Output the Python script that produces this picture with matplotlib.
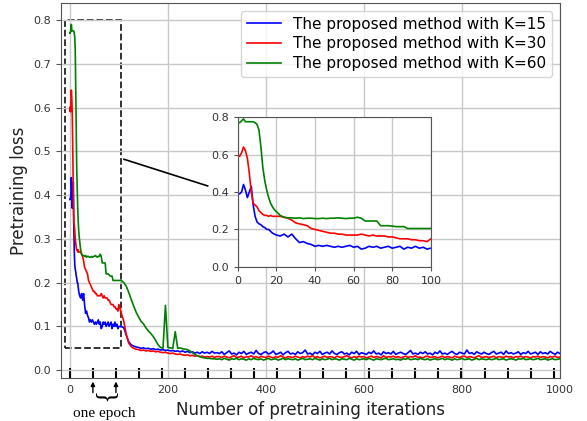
import numpy as np
import matplotlib.pyplot as plt
from matplotlib.patches import Rectangle, ConnectionPatch

# one epoch = 47 pretraining iterations (tick marks on the x axis)
EPOCH = 47

# sample positions: every iteration up to 20, then every 2 up to 100, then every 5
iterations = np.concatenate([np.arange(0, 21), np.arange(22, 101, 2), np.arange(105, 1001, 5)])

loss_k15 = [
    # 0..20
    0.39, 0.39, 0.40, 0.44, 0.41, 0.37, 0.40, 0.43, 0.33, 0.27, 0.24, 0.23, 0.225, 0.215, 0.21, 0.20, 0.20, 0.19, 0.18, 0.175, 0.17,
    # 22..100
    0.165, 0.175, 0.16, 0.175, 0.15, 0.13, 0.135, 0.125, 0.12, 0.11, 0.115, 0.11, 0.115, 0.11, 0.105, 0.11, 0.105, 0.11, 0.115, 0.105,
    0.11, 0.095, 0.10, 0.11, 0.105, 0.11, 0.10, 0.105, 0.11, 0.10, 0.105, 0.11, 0.095, 0.105, 0.10, 0.11, 0.10, 0.105, 0.095, 0.10,
    # 105..300
    0.100, 0.097, 0.080, 0.065, 0.058, 0.055, 0.053, 0.052, 0.050, 0.051, 0.049, 0.050, 0.048, 0.049, 0.047, 0.048, 0.046, 0.047, 0.045, 0.046,
    0.044, 0.045, 0.043, 0.044, 0.042, 0.044, 0.041, 0.043, 0.040, 0.042, 0.039, 0.041, 0.038, 0.042, 0.039, 0.041, 0.038, 0.043, 0.039, 0.040,
    # 305..1000
    0.038, 0.042, 0.036, 0.040, 0.044, 0.037, 0.039, 0.035, 0.041, 0.038,
    0.043, 0.036, 0.039, 0.041, 0.037, 0.045, 0.038, 0.036, 0.040, 0.042,
    0.037, 0.039, 0.044, 0.036, 0.038, 0.041, 0.035, 0.040, 0.043, 0.037,
    0.039, 0.036, 0.042, 0.038, 0.040, 0.046, 0.037, 0.039, 0.035, 0.041,
    0.038, 0.043, 0.036, 0.039, 0.041, 0.037, 0.044, 0.038, 0.036, 0.040,
    0.042, 0.037, 0.039, 0.035, 0.041, 0.038, 0.043, 0.036, 0.040, 0.038,
    0.036, 0.041, 0.038, 0.044, 0.037, 0.039, 0.035, 0.042, 0.038, 0.040,
    0.037, 0.043, 0.036, 0.039, 0.041, 0.038, 0.036, 0.040, 0.045, 0.037,
    0.039, 0.036, 0.041, 0.038, 0.042, 0.037, 0.039, 0.035, 0.041, 0.038,
    0.044, 0.037, 0.039, 0.036, 0.040, 0.043, 0.038, 0.036, 0.041, 0.039,
    0.037, 0.046, 0.038, 0.040, 0.036, 0.042, 0.039, 0.037, 0.041, 0.038,
    0.036, 0.040, 0.043, 0.037, 0.039, 0.041, 0.036, 0.044, 0.038, 0.040,
    0.037, 0.039, 0.042, 0.036, 0.040, 0.038, 0.043, 0.037, 0.039, 0.041,
    0.036, 0.042, 0.038, 0.040, 0.037, 0.043, 0.039, 0.036, 0.041, 0.038,
]

loss_k30 = [
    # 0..20
    0.60, 0.59, 0.61, 0.64, 0.62, 0.58, 0.50, 0.40, 0.34, 0.33, 0.32, 0.30, 0.29, 0.28, 0.275, 0.275, 0.27, 0.275, 0.27, 0.27, 0.27,
    # 22..100
    0.27, 0.265, 0.26, 0.25, 0.235, 0.23, 0.225, 0.22, 0.205, 0.20, 0.195, 0.19, 0.185, 0.18, 0.18, 0.175, 0.175, 0.17, 0.17, 0.17,
    0.17, 0.175, 0.17, 0.165, 0.17, 0.165, 0.165, 0.165, 0.16, 0.16, 0.155, 0.15, 0.15, 0.15, 0.145, 0.145, 0.14, 0.14, 0.135, 0.15,
    # 105..300
    0.130, 0.112, 0.082, 0.062, 0.054, 0.050, 0.048, 0.047, 0.045, 0.046, 0.044, 0.045, 0.043, 0.044, 0.042, 0.043, 0.041, 0.040, 0.041, 0.039,
    0.038, 0.039, 0.037, 0.036, 0.037, 0.035, 0.034, 0.035, 0.033, 0.034, 0.032, 0.033, 0.031, 0.032, 0.030, 0.031, 0.030, 0.032, 0.029, 0.031,
    # 305..1000
    0.031, 0.029, 0.032, 0.030, 0.028, 0.031, 0.033, 0.029, 0.030, 0.032,
    0.028, 0.031, 0.030, 0.033, 0.029, 0.031, 0.028, 0.032, 0.030, 0.029,
    0.032, 0.030, 0.028, 0.031, 0.029, 0.033, 0.030, 0.028, 0.031, 0.030,
    0.029, 0.032, 0.030, 0.028, 0.031, 0.029, 0.032, 0.030, 0.033, 0.029,
    0.031, 0.028, 0.030, 0.032, 0.029, 0.031, 0.030, 0.028, 0.032, 0.030,
    0.029, 0.031, 0.033, 0.030, 0.028, 0.031, 0.029, 0.032, 0.030, 0.031,
    0.028, 0.030, 0.032, 0.029, 0.031, 0.030, 0.028, 0.033, 0.029, 0.031,
    0.030, 0.032, 0.029, 0.031, 0.028, 0.030, 0.032, 0.029, 0.031, 0.030,
    0.033, 0.029, 0.030, 0.028, 0.031, 0.032, 0.029, 0.030, 0.031, 0.028,
    0.030, 0.032, 0.029, 0.031, 0.030, 0.028, 0.032, 0.030, 0.029, 0.031,
    0.032, 0.029, 0.031, 0.030, 0.028, 0.031, 0.033, 0.029, 0.030, 0.031,
    0.029, 0.030, 0.032, 0.028, 0.031, 0.030, 0.029, 0.032, 0.030, 0.031,
    0.028, 0.031, 0.030, 0.032, 0.029, 0.031, 0.030, 0.028, 0.031, 0.030,
    0.032, 0.029, 0.031, 0.030, 0.028, 0.031, 0.030, 0.032, 0.029, 0.030,
]

loss_k60 = [
    # 0..20
    0.77, 0.77, 0.78, 0.79, 0.775, 0.775, 0.775, 0.775, 0.775, 0.77, 0.76, 0.73, 0.64, 0.53, 0.46, 0.41, 0.37, 0.34, 0.32, 0.305, 0.295,
    # 22..100
    0.275, 0.265, 0.262, 0.262, 0.26, 0.262, 0.258, 0.26, 0.26, 0.258, 0.258, 0.26, 0.258, 0.26, 0.26, 0.262, 0.26, 0.258, 0.26, 0.26,
    0.265, 0.26, 0.245, 0.245, 0.245, 0.245, 0.22, 0.22, 0.22, 0.218, 0.215, 0.215, 0.215, 0.205, 0.205, 0.205, 0.205, 0.205, 0.205, 0.205,
    # 105..300
    0.205, 0.200, 0.192, 0.178, 0.162, 0.147, 0.133, 0.122, 0.112, 0.106, 0.097, 0.090, 0.084, 0.077, 0.068, 0.058, 0.052, 0.050, 0.148, 0.052,
    0.051, 0.050, 0.088, 0.050, 0.051, 0.049, 0.048, 0.047, 0.044, 0.040, 0.036, 0.033, 0.031, 0.029, 0.028, 0.027, 0.027, 0.026, 0.026, 0.025,
    # 305..1000
    0.026, 0.024, 0.027, 0.025, 0.023, 0.026, 0.025, 0.027, 0.024, 0.026,
    0.025, 0.023, 0.026, 0.024, 0.027, 0.025, 0.024, 0.026, 0.023, 0.025,
    0.027, 0.024, 0.025, 0.026, 0.023, 0.025, 0.027, 0.024, 0.026, 0.025,
    0.024, 0.026, 0.023, 0.025, 0.027, 0.024, 0.025, 0.026, 0.024, 0.027,
    0.025, 0.023, 0.026, 0.024, 0.025, 0.027, 0.024, 0.026, 0.025, 0.023,
    0.026, 0.025, 0.024, 0.027, 0.025, 0.023, 0.026, 0.024, 0.025, 0.026,
    0.024, 0.027, 0.025, 0.023, 0.026, 0.025, 0.024, 0.026, 0.027, 0.024,
    0.025, 0.026, 0.024, 0.025, 0.023, 0.026, 0.025, 0.027, 0.024, 0.025,
    0.026, 0.024, 0.027, 0.025, 0.024, 0.026, 0.023, 0.025, 0.026, 0.024,
    0.025, 0.027, 0.024, 0.026, 0.025, 0.023, 0.026, 0.024, 0.025, 0.027,
    0.024, 0.025, 0.026, 0.023, 0.025, 0.027, 0.024, 0.026, 0.025, 0.024,
    0.026, 0.024, 0.025, 0.027, 0.024, 0.025, 0.026, 0.023, 0.025, 0.026,
    0.025, 0.023, 0.026, 0.025, 0.027, 0.024, 0.025, 0.026, 0.024, 0.025,
    0.027, 0.024, 0.025, 0.026, 0.023, 0.025, 0.026, 0.024, 0.025, 0.026,
]

series = [loss_k15, loss_k30, loss_k60]
labels = ['The proposed method with K=15', 'The proposed method with K=30', 'The proposed method with K=60']
colors = ['blue', 'red', 'green']

GRID = '#c8c8c8'
EDGE = '#555555'
TXT = '#333333'

fig = plt.figure(figsize=(5.87, 4.21), dpi=100)
ax = fig.add_axes([0.104, 0.102, 0.850, 0.891])

for y, lab, c in zip(series, labels, colors):
    ax.plot(iterations, y, color=c, lw=1.2, label=lab)

ax.set_xlim(-18, 1000)
ax.set_ylim(-0.018, 0.839)
ax.set_xticks(np.arange(0, 1001, 200))
ax.set_yticks(np.arange(0, 0.81, 0.1))
ax.set_yticklabels([f'{v:.1f}' for v in np.arange(0, 0.81, 0.1)])
# epoch marks drawn as inward minor ticks
ax.set_xticks(np.arange(0, 1001, EPOCH), minor=True)
ax.xaxis.remove_overlapping_locs = False
ax.tick_params(axis='x', which='major', length=0, labelsize=8, labelcolor=TXT, pad=5)
ax.tick_params(axis='x', which='minor', direction='in', length=7, width=1.5, color='black')
ax.tick_params(axis='y', which='major', length=3.5, color=EDGE, labelsize=8, labelcolor=TXT)
ax.grid(True, which='major', color=GRID, lw=1)
for s in ax.spines.values():
    s.set_color(EDGE)

ax.set_xlabel('Number of pretraining iterations', fontsize=12, color='#222222', labelpad=4)
ax.set_ylabel('Pretraining loss', fontsize=12, color='#222222')

ax.legend(loc='upper right', fontsize=11, labelspacing=0.3, handlelength=2.2,
          borderaxespad=0.5, edgecolor='#cccccc', framealpha=0.8)

# dashed box around the first epochs
ax.add_patch(Rectangle((-10, 0.05), 114, 0.75, fill=False, ls='--', lw=1.3, ec='#222222'))

# "one epoch" annotation under the axis
trans = ax.get_xaxis_transform()
for xe in (EPOCH, 2 * EPOCH):
    ax.annotate('', xy=(xe, -0.002), xycoords=trans, xytext=(xe, -0.046), textcoords=trans,
                arrowprops=dict(arrowstyle='-|>', color='black', lw=1, mutation_scale=6))
ax.text(1.5 * EPOCH, -0.055, '}', transform=trans, rotation=-90, fontsize=19,
        family='Liberation Serif', ha='center', va='center', clip_on=False)
ax.text(1.5 * EPOCH, -0.094, 'one epoch', transform=trans, ha='center', va='center',
        fontsize=11, family='Liberation Serif')

# zoomed inset of the first 100 iterations
axins = fig.add_axes([0.405, 0.366, 0.329, 0.356])
for y, c in zip(series, colors):
    axins.plot(iterations, y, color=c, lw=1.2)
axins.set_xlim(0, 100)
axins.set_ylim(0, 0.8)
axins.set_xticks(np.arange(0, 101, 20))
axins.set_yticks(np.arange(0, 0.81, 0.2))
axins.set_yticklabels([f'{v:.1f}' for v in np.arange(0, 0.81, 0.2)])
axins.tick_params(length=3, color=EDGE, labelsize=8, labelcolor=TXT)
axins.grid(True, color=GRID, lw=1)
for s in axins.spines.values():
    s.set_color(EDGE)

con = ConnectionPatch(xyA=(110, 0.482), coordsA=ax.transData, xyB=(-0.155, 0.54), coordsB=axins.transAxes,
                      color='black', lw=1.2)
fig.add_artist(con)

fig.savefig('out.png', dpi=100)
